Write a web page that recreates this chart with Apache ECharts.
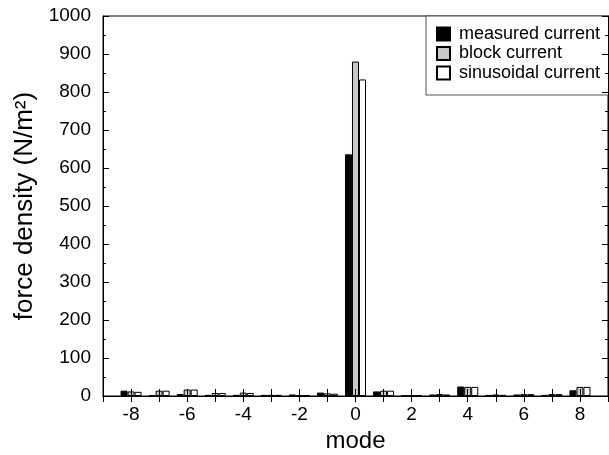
<!DOCTYPE html>
<html>
<head>
<meta charset="utf-8">
<script src="https://cdn.jsdelivr.net/npm/echarts@6/dist/echarts.min.js"></script>
<style>html,body{margin:0;padding:0;background:#fff;width:100%;height:100%;overflow:hidden}#c{width:100%;height:100%}</style>
</head>
<body>
<div id="c"></div>
<script>
// modes shown (axis runs from -9 to 9)
var modes = [-9,-8,-7,-6,-5,-4,-3,-2,-1,0,1,2,3,4,5,6,7,8,9];
// values for modes -8..8
var measured   = [14, 2, 5, 3, 3, 3, 4, 9, 636, 12, 1, 4, 25, 3, 4, 3, 15];
var block      = [12, 14, 17, 8, 9, 3, 1, 7, 880, 14, 2, 5, 24, 4, 5, 5, 24];
var sinusoidal = [11, 14, 17, 8, 8, 3, 1, 6, 833, 14, 1, 4, 24, 3, 5, 5, 24];
var yTicks = [0,100,200,300,400,500,600,700,800,900,1000];

function pad(a){ return [null].concat(a).concat([null]); }
var FONT = '"Liberation Sans", Arial, sans-serif';
var cats = modes.map(String);
var chart = echarts.init(document.getElementById('c'));
chart.setOption({
  animation: false,
  backgroundColor: '#fff',
  grid: {left: 103, right: 1, top: 16, bottom: 59, show: true, borderColor: '#000', borderWidth: 1,
         backgroundColor: 'transparent', containLabel: false, outerBoundsMode: 'none'},
  legend: {
    orient: 'vertical', left: 426, top: 16,
    padding: [9, 12, 13, 10], itemGap: 1.5, itemWidth: 13, itemHeight: 13,
    backgroundColor: '#fff', borderColor: '#555', borderWidth: 1, borderRadius: 0,
    textStyle: {fontFamily: FONT, fontSize: 18, color: '#000', padding: [0, 0, 0, 4]},
    data: ['measured current', 'block current', 'sinusoidal current'],
    icon: 'rect'
  },
  xAxis: [{
    type: 'category', data: cats, boundaryGap: false, z: 5,
    name: 'mode', nameLocation: 'middle', nameGap: 29,
    nameTextStyle: {fontFamily: FONT, fontSize: 24, color: '#000'},
    axisLine: {lineStyle: {color: '#000', width: 1}},
    axisTick: {inside: true, length: 7, interval: 0, lineStyle: {color: '#000'}},
    axisLabel: {interval: 0, margin: 9, fontFamily: FONT, fontSize: 19, color: '#000',
      formatter: function(v){ var n = +v; return (n % 2 === 0 && Math.abs(n) < 9) ? v : ''; }},
    splitLine: {show: false}
  },{
    type: 'category', data: cats, boundaryGap: false, position: 'top', z: 5,
    axisLine: {lineStyle: {color: '#000'}},
    axisTick: {inside: true, length: 6, interval: 0, lineStyle: {color: '#000'}},
    axisLabel: {show: false}, splitLine: {show: false}
  }],
  yAxis: [{
    type: 'value', min: 0, max: 1000, interval: 100, z: 5,
    name: 'force density (N/m²)', nameLocation: 'middle', nameGap: 54,
    nameTextStyle: {fontFamily: FONT, fontSize: 26, color: '#000'},
    axisLine: {show: true, lineStyle: {color: '#000'}},
    axisTick: {show: true, inside: true, length: 6, lineStyle: {color: '#000'}},
    minorTick: {show: true, splitNumber: 2, length: 3, lineStyle: {color: '#000'}},
    axisLabel: {margin: 12, fontFamily: FONT, fontSize: 19, color: '#000',
      formatter: function(v){ return yTicks.indexOf(v) >= 0 ? String(v) : ''; }},
    splitLine: {show: false}
  },{
    type: 'value', min: 0, max: 1000, interval: 100, position: 'right', z: 5,
    axisLine: {show: true, lineStyle: {color: '#000'}},
    axisTick: {show: true, inside: true, length: 6, lineStyle: {color: '#000'}},
    minorTick: {show: true, splitNumber: 2, length: 3, lineStyle: {color: '#000'}},
    axisLabel: {show: false}, splitLine: {show: false}
  }],
  series: [
    {name: 'measured current', type: 'bar', data: pad(measured), barGap: '0%', barCategoryGap: '25%',
     itemStyle: {color: '#000', borderColor: '#000', borderWidth: 1}},
    {name: 'block current', type: 'bar', data: pad(block), barGap: '0%', barCategoryGap: '25%',
     itemStyle: {color: '#c8c8c8', borderColor: '#000', borderWidth: 1}},
    {name: 'sinusoidal current', type: 'bar', data: pad(sinusoidal), barGap: '0%', barCategoryGap: '25%',
     itemStyle: {color: '#fff', borderColor: '#000', borderWidth: 1}}
  ]
});
</script>
</body>
</html>
